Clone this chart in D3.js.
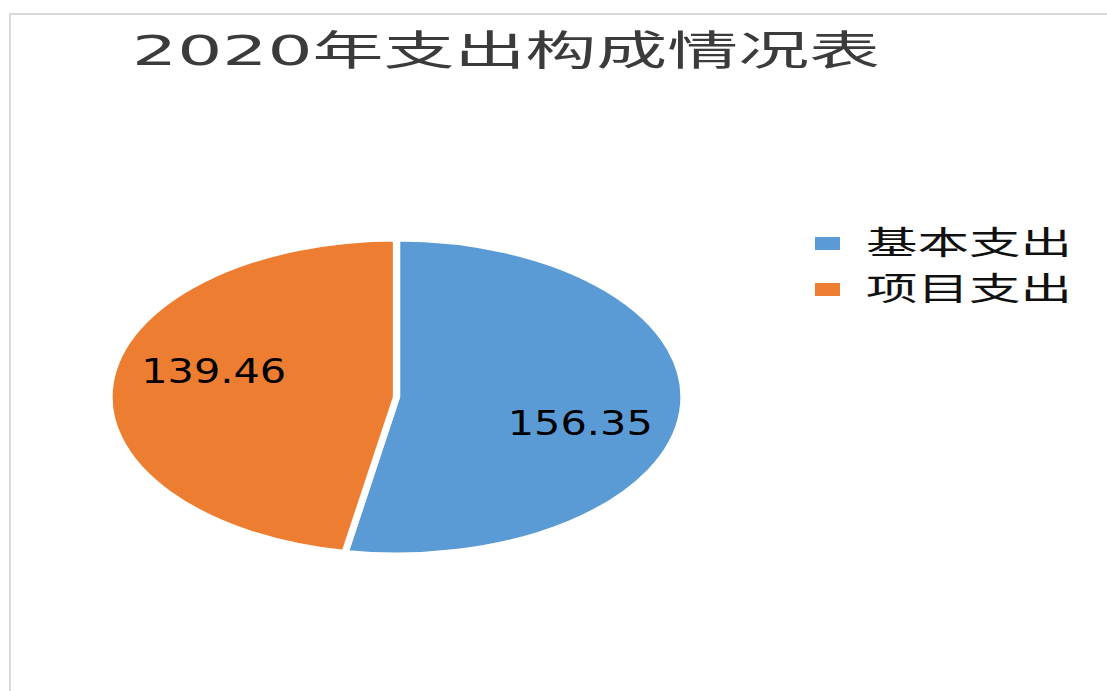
<!DOCTYPE html>
<html>
<head>
<meta charset="utf-8">
<script src="https://cdn.jsdelivr.net/npm/d3@7"></script>
<style>
  body { margin: 0; background: #fff; }
  svg { display: block; }
</style>
</head>
<body>
<div id="chart"></div>
<script>
const titleText = "2020年支出构成情况表";
const categories = ["基本支出", "项目支出"];
const values = [156.35, 139.46];
const colors = ["#5B9BD5", "#ED7D31"];

const width = 1107, height = 691;
const cx = 396.5, cy = 397;
const ry = 157.5, rx = 287.5;
const sx = rx / ry;

const svg = d3.select("#chart").append("svg")
  .attr("width", width)
  .attr("height", height);

// frame lines (top + left)
svg.append("path")
  .attr("d", "M10," + height + "V14H" + width)
  .attr("fill", "none")
  .attr("stroke", "#d9d9d9")
  .attr("stroke-width", 2);

// title
svg.append("text")
  .attr("x", 132)
  .attr("y", 65)
  .attr("textLength", 748)
  .attr("lengthAdjust", "spacingAndGlyphs")
  .style("font-family", "'DejaVu Sans', 'Noto Sans CJK SC', sans-serif")
  .style("font-size", "41px")
  .attr("fill", "#3b3b3b")
  .text(titleText);

// pie, drawn as a circle and stretched into an ellipse
const pie = d3.pie().sort(null).value(d => d);
const arcs = pie(values);
const arc = d3.arc().innerRadius(0).outerRadius(ry);

const g = svg.append("g")
  .attr("transform", "translate(" + cx + "," + cy + ") scale(" + sx + ",1)");

g.selectAll("path")
  .data(arcs)
  .enter().append("path")
  .attr("d", arc)
  .attr("fill", (d, i) => colors[i])
  .attr("stroke", "#fff")
  .attr("stroke-width", 4)
  .attr("stroke-linejoin", "round");

// data labels
const labelArc = d3.arc().innerRadius(ry * 0.64).outerRadius(ry * 0.64);
svg.selectAll(".label")
  .data(arcs)
  .enter().append("text")
  .attr("class", "label")
  .each(function (d) {
    const c = labelArc.centroid(d);
    const x = cx + c[0] * sx;
    const y = cy + c[1] + (c[1] < 0 ? -17 : 17);
    d3.select(this)
      .attr("x", x - 72)
      .attr("y", y + 12);
  })
  .attr("textLength", 145)
  .attr("lengthAdjust", "spacingAndGlyphs")
  .style("font-family", "'DejaVu Sans', sans-serif")
  .style("font-size", "34px")
  .attr("fill", "#000")
  .text(d => d.value.toFixed(2));

// legend
const legend = svg.selectAll(".legend")
  .data(categories)
  .enter().append("g")
  .attr("class", "legend")
  .attr("transform", (d, i) => "translate(815," + (237 + i * 46) + ")");

legend.append("rect")
  .attr("width", 25)
  .attr("height", 13)
  .attr("fill", (d, i) => colors[i]);

legend.append("text")
  .attr("x", 51)
  .attr("y", 17)
  .attr("textLength", 206)
  .attr("lengthAdjust", "spacingAndGlyphs")
  .style("font-family", "'Noto Sans CJK SC', sans-serif")
  .style("font-size", "32px")
  .attr("fill", "#111")
  .text(d => d);
</script>
</body>
</html>
